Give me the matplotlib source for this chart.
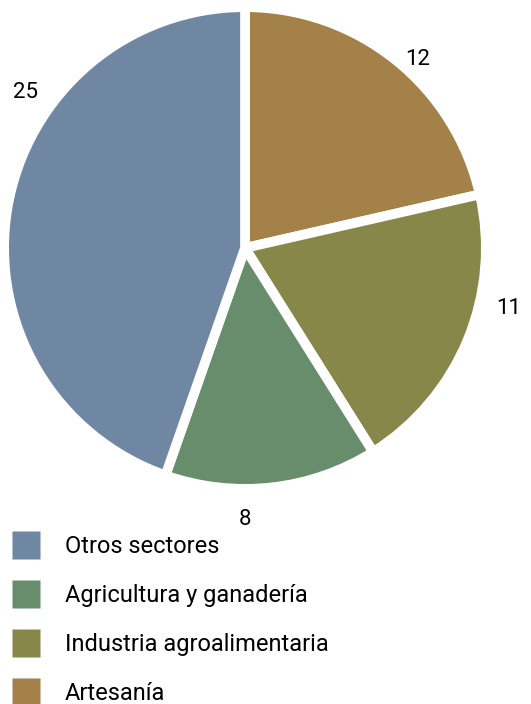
import matplotlib
matplotlib.use("Agg")
from matplotlib import pyplot as plt
from matplotlib.lines import Line2D

plt.rcParams['font.family'] = ['Roboto', 'DejaVu Sans']

# datos del gráfico
sectores = ["Artesanía", "Industria agroalimentaria", "Agricultura y ganadería", "Otros sectores"]
valores = [12, 11, 8, 25]
colores = ["#a48148", "#868748", "#688d6d", "#7087a4"]

# posiciones de las etiquetas numéricas (fracción de ejes)
pos_etiquetas = [(0.868, 0.902), (1.06, 0.372), (0.50, -0.078), (0.032, 0.830)]

fig = plt.figure(figsize=(5.31, 7.04), dpi=100)
ax = fig.add_axes([10 / 531, 1 - 483 / 704, 470 / 531, 470 / 704])

wedges, _ = ax.pie(valores, colors=colores, startangle=90, counterclock=False,
                   radius=1.025,
                   wedgeprops=dict(edgecolor="white", linewidth=7))
ax.set_xlim(-1, 1)
ax.set_ylim(-1, 1)
ax.set_aspect("equal")

for v, (x, y) in zip(valores, pos_etiquetas):
    ax.text(x, y, str(v), transform=ax.transAxes, ha="center", va="center",
            fontsize=16, color="black", clip_on=False)

# leyenda con cuadrados
cuadros = [Line2D([], [], marker="s", linestyle="none", markersize=20,
                  markerfacecolor=c, markeredgecolor="none") for c in colores]
fig.legend(cuadros[::-1], sectores[::-1], loc="upper left",
           bbox_to_anchor=(12 / 531, 1 - 535 / 704), frameon=False,
           fontsize=17, handlelength=1.19, handletextpad=1.06,
           labelspacing=1.1, borderpad=0, borderaxespad=0)

fig.savefig("out.png", dpi=100)
